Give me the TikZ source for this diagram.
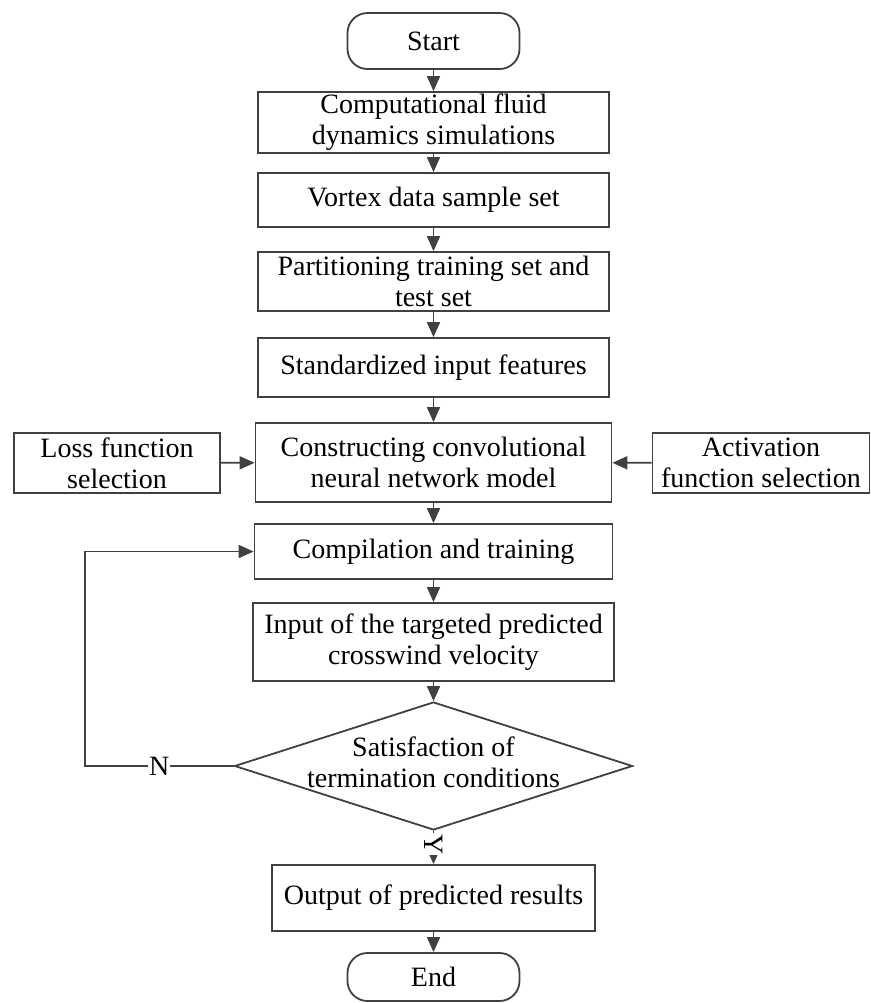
\documentclass[tikz,border=0pt]{standalone}
\usepackage{fontspec}
\setmainfont{Liberation Serif}
\usetikzlibrary{shapes.geometric,arrows.meta}
\definecolor{linegray}{HTML}{404040}
\newcommand{\flowfont}{\fontsize{14}{15.5}\selectfont}
\tikzset{
  flowline/.style={draw=linegray, line width=0.9pt},
  arr/.style={flowline, -{Triangle[length=7.5pt,width=6.5pt]}},
  procbox/.style={flowline, rectangle, align=center, inner sep=0pt, font=\flowfont},
  termbox/.style={procbox, rounded corners=10pt},
  decbox/.style={flowline, diamond, inner sep=0pt, align=center, font=\flowfont},
  lbl/.style={fill=white, inner sep=0.5pt, font=\flowfont},
}
\begin{document}
\begin{tikzpicture}[x=0.5pt,y=-0.5pt]
\useasboundingbox (0,0) rectangle (871,1003);
\node[termbox, minimum width=86pt, minimum height=28pt] (start) at (433.5,41) {Start};
\node[procbox, minimum width=175.5pt, minimum height=30.5pt] (cfd) at (433.5,122.5) {Computational fluid\\dynamics simulations};
\node[procbox, minimum width=175.5pt, minimum height=27pt] (vortex) at (433.5,200) {Vortex data sample set};
\node[procbox, minimum width=175.5pt, minimum height=29.5pt] (part) at (433.5,281.5) {Partitioning training set and\\test set};
\node[procbox, minimum width=175.5pt, minimum height=29.5pt] (std) at (433.5,367.5) {Standardized input features};
\node[procbox, minimum width=178pt, minimum height=39.5pt] (cnn) at (433.5,462.5) {Constructing convolutional\\neural network model};
\node[procbox, minimum width=103pt, minimum height=30pt] (loss) at (117,463) {Loss function\\selection};
\node[procbox, minimum width=108.5pt, minimum height=30pt] (act) at (761,463) {Activation\\function selection};
\node[procbox, minimum width=179pt, minimum height=27.5pt] (comp) at (433.5,551.5) {Compilation and training};
\node[procbox, minimum width=180.5pt, minimum height=39pt] (input) at (433.5,642) {Input of the targeted predicted\\crosswind velocity};
\node[decbox, minimum width=199pt, minimum height=64pt] (cond) at (433.5,766) {\makebox[0pt]{\begin{tabular}{@{}c@{}}Satisfaction of\\termination conditions\end{tabular}}};
\node[procbox, minimum width=161.5pt, minimum height=33pt] (output) at (433.5,898) {Output of predicted results};
\node[termbox, minimum width=86pt, minimum height=24pt] (end) at (433.5,977) {End};
\coordinate (turn) at (85,766);

\foreach \a/\b in {start/cfd,cfd/vortex,vortex/part,part/std,std/cnn,cnn/comp,comp/input,input/cond,output/end}
  \draw[arr] (\a) -- (\b);
\draw[arr] (loss) -- (cnn);
\draw[arr] (act) -- (cnn);
\draw[arr] (cond) -- node[lbl, rotate=-90, pos=0.4] {Y} (output);
\draw[arr] (cond.west) -- node[lbl] {N} (turn) |- (comp.west);
\end{tikzpicture}
\end{document}
